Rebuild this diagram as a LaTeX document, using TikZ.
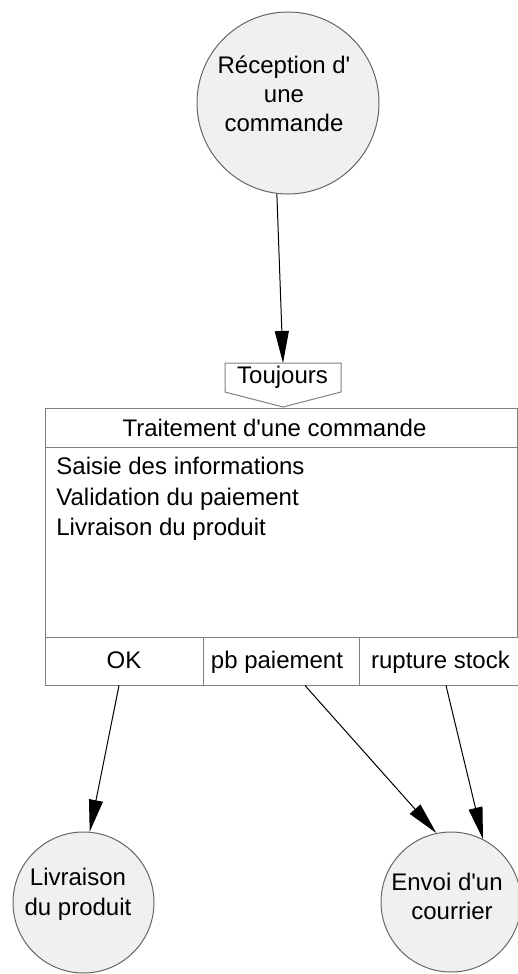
\documentclass[tikz,border=0pt]{standalone}
\usepackage{fontspec}
% a family of its own, so that ' stays a straight apostrophe
\newfontfamily\diafont{Liberation Sans}
\usetikzlibrary{arrows.meta}
\definecolor{bubble}{HTML}{F0F0F0}
\definecolor{rim}{HTML}{666666}
\definecolor{frame}{HTML}{808080}
\begin{document}
\begin{tikzpicture}[x=0.5pt, y=-0.5pt,
  font=\diafont\fontsize{12}{15}\selectfont,
  state/.style={circle, draw=rim, fill=bubble, line width=0.5pt, inner sep=0pt},
  cell/.style={rectangle, draw=frame, line width=0.5pt, inner sep=0pt},
  lbl/.style={inner sep=0pt, anchor=base},
  lblw/.style={inner sep=0pt, anchor=base west},
  flow/.style={draw=black, line width=0.5pt, -{Triangle[length=16pt,width=7pt]}}]
\useasboundingbox (0,0) rectangle (518,974);

% start event
\node[state, minimum size=91pt] (rec) at (288,103) {};
\node[lbl] (rec1) at (284,74) {Réception d'};
\node[lbl] (rec2) at (284,103) {une};
\node[lbl] (rec3) at (284,132) {commande};

% guard "Toujours"
\draw[draw=frame, line width=0.5pt, fill=white]
  (225,363) -- (341,363) -- (341,392) -- (283,407) -- (225,392) -- cycle;
\coordinate (tjtop) at (283,363);
\node[lbl] (tj) at (282.5,383) {Toujours};

% process box
\node[cell, minimum width=236pt, minimum height=19.5pt] (head) at (281,427.5) {};
\node[lbl] (headt) at (274.5,436) {Traitement d'une commande};
\node[cell, minimum width=236pt, minimum height=95pt] (body) at (281,542) {};
\node[lblw] (op1) at (56,474) {Saisie des informations};
\node[lblw] (op2) at (56,505) {Validation du paiement};
\node[lblw] (op3) at (56,535) {Livraison du produit};

% outcomes
\node[cell, minimum width=79pt, minimum height=24pt] (ok) at (124,661) {};
\node[cell, minimum width=78pt, minimum height=24pt] (pb) at (281,661) {};
\node[cell, minimum width=80.5pt, minimum height=24pt] (rs) at (439.5,661) {};
\node[lbl] (okt) at (124,668) {OK};
\node[lbl] (pbt) at (277,668) {pb paiement};
\node[lbl] (rst) at (440.5,668) {rupture stock};

% end events
\node[state, minimum size=70.5pt] (liv) at (83.5,902.5) {};
\node[lbl] (liv1) at (78,885) {Livraison};
\node[lbl] (liv2) at (78,915) {du produit};
\node[state, minimum size=70pt] (env) at (451,902) {};
\node[lbl] (env1) at (447,890) {Envoi d'un};
\node[lbl] (env2) at (452,919) {courrier};

% connectors
\draw[flow] (rec.263) -- (tjtop);
\draw[flow] ([xshift=-2.5pt]ok.south) -- (liv.85);
\draw[flow] ([xshift=12pt]pb.south) -- (env.102);
\draw[flow] ([xshift=3.25pt]rs.south) -- (env.63);
\end{tikzpicture}
\end{document}
